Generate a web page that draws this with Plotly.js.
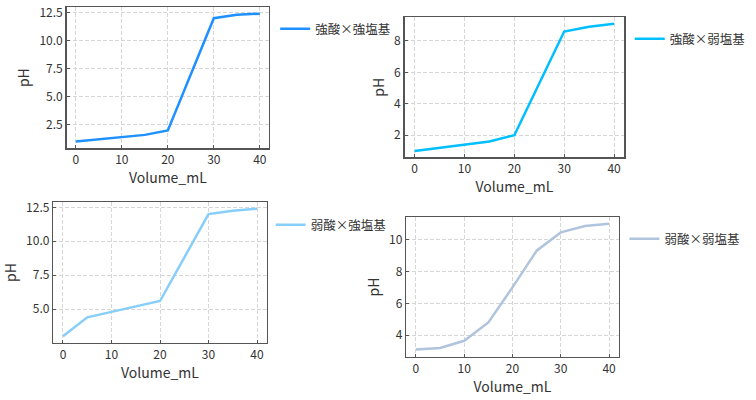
<!DOCTYPE html>
<html><head><meta charset="utf-8">
<script src="https://cdn.plot.ly/plotly-3.0.1.min.js"></script>
<style>html,body{margin:0;padding:0;background:#fff}#chart{width:756px;height:400px}</style>
</head><body><div id="chart"></div>
<script>
const volume = [0, 5, 10, 15, 20, 25, 30, 35, 40];
const names = ["強酸×強塩基", "強酸×弱塩基", "弱酸×強塩基", "弱酸×弱塩基"];
const phStrongStrong = [1.0, 1.2, 1.4, 1.6, 2.0, 7.0, 12.0, 12.3, 12.4];
const phStrongWeak   = [1.0, 1.2, 1.4, 1.6, 2.0, 5.3, 8.6, 8.9, 9.1];
const phWeakStrong   = [3.0, 4.4, 4.8, 5.2, 5.6, 8.8, 12.0, 12.25, 12.4];
const phWeakWeak     = [3.1, 3.2, 3.65, 4.8, 7.0, 9.3, 10.45, 10.85, 11.0];
const colors = ["#1E90FF", "#00BFFF", "#87CEFA", "#B0C4DE"];

const series = [phStrongStrong, phStrongWeak, phWeakStrong, phWeakWeak];
const font = "Noto Sans CJK JP, Noto Sans, sans-serif";
const traces = series.map((ys, i) => ({
  x: volume, y: ys, type: "scatter", mode: "lines", name: names[i],
  line: {color: colors[i], width: 2.5},
  xaxis: i === 0 ? "x" : "x" + (i + 1),
  yaxis: i === 0 ? "y" : "y" + (i + 1),
  legend: i === 0 ? "legend" : "legend" + (i + 1)
}));

const dom = [
  {x: [0.0882, 0.3558], y: [0.630, 0.9818]},
  {x: [0.5353, 0.8254], y: [0.6068, 0.9568]},
  {x: [0.0705, 0.3528], y: [0.1433, 0.4943]},
  {x: [0.5374, 0.8184], y: [0.1083, 0.4568]}
];
const yRanges = [[0.43, 12.97], [0.595, 9.505], [2.53, 12.87], [2.65, 11.4]];
const yDt = [2.5, 2, 2.5, 2];
const yFmt = [".1f", "d", ".1f", "d"];
const legPos = [
  {x: 0.364, y: 0.965},
  {x: 0.833, y: 0.94},
  {x: 0.358, y: 0.475},
  {x: 0.826, y: 0.44}
];

const layout = {
  width: 756, height: 400,
  margin: {l: 0, r: 0, t: 0, b: 0},
  paper_bgcolor: "#fff", plot_bgcolor: "#fff",
  font: {family: font, color: "#333", size: 11},
  showlegend: true
};
const axBase = {
  showline: true, linecolor: "#555", linewidth: 1.5, mirror: true,
  ticks: "inside", ticklen: 3, tickwidth: 1, tickcolor: "#555",
  showgrid: true, gridcolor: "#d6d6d6", griddash: "4px,2px", gridwidth: 1,
  zeroline: false, tickfont: {size: 12, color: "#333"}
};
for (let i = 0; i < 4; i++) {
  const xs = i === 0 ? "" : String(i + 1);
  layout["xaxis" + xs] = Object.assign({}, axBase, {
    domain: dom[i].x, range: [-2, 42], dtick: 10, tick0: 0,
    anchor: "y" + xs,
    title: {text: "Volume_mL", font: {size: 14, color: "#333"}, standoff: 4}
  });
  layout["yaxis" + xs] = Object.assign({}, axBase, {
    domain: dom[i].y, range: yRanges[i], dtick: yDt[i], tick0: 0,
    tickformat: yFmt[i], anchor: "x" + xs,
    title: {text: "pH", font: {size: 14, color: "#333"}, standoff: 6}
  });
  layout["legend" + (i === 0 ? "" : String(i + 1))] = {
    x: legPos[i].x, y: legPos[i].y, xanchor: "left", yanchor: "top",
    bgcolor: "rgba(0,0,0,0)", borderwidth: 0, itemwidth: 30,
    font: {size: 12.5, color: "#333", family: font}
  };
}
Plotly.newPlot("chart", traces, layout, {staticPlot: true});
</script></body></html>
